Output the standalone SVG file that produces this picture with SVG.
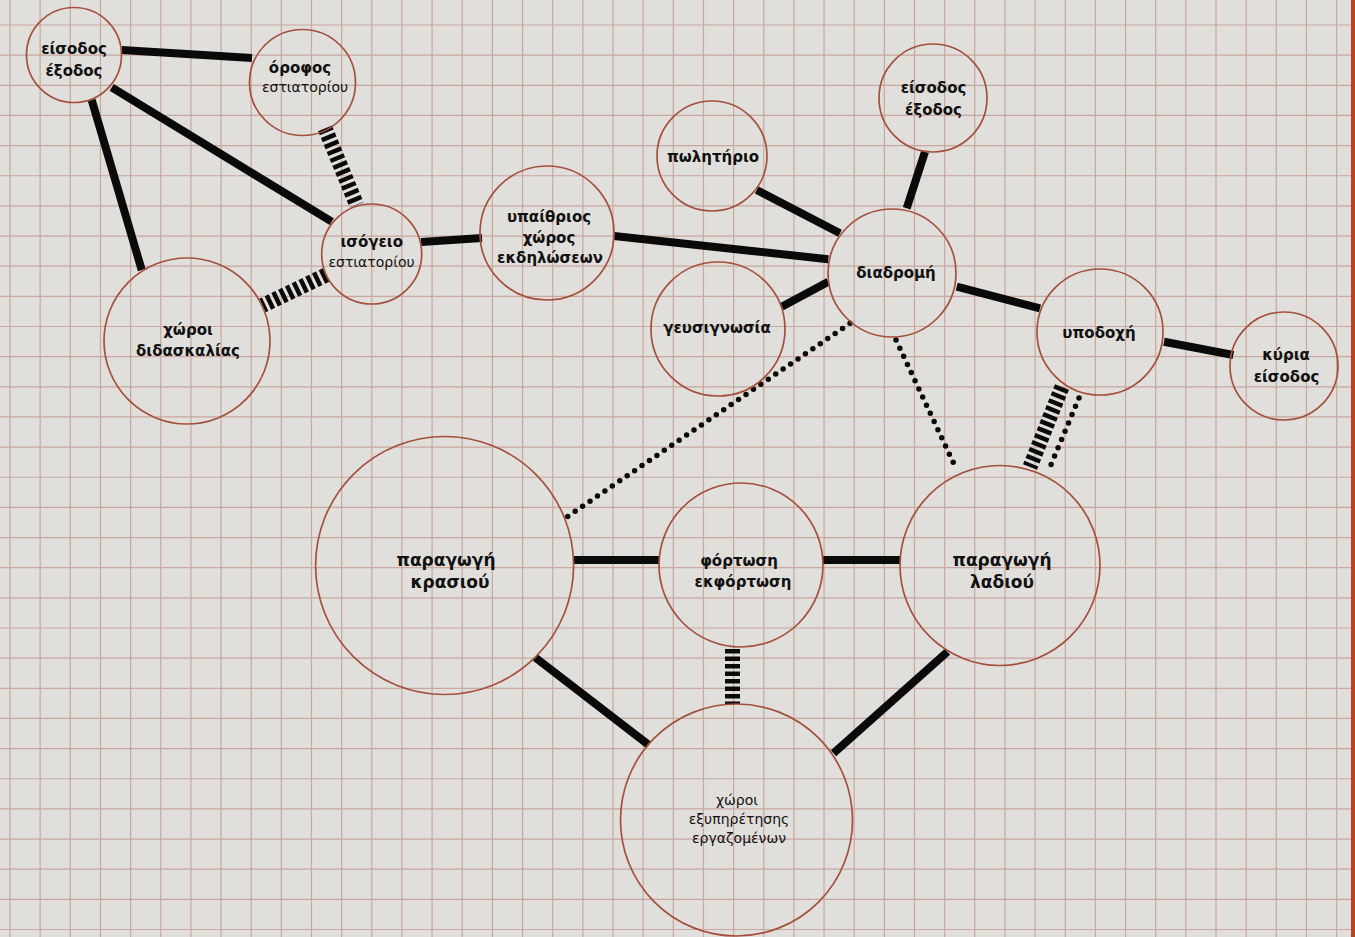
<svg xmlns="http://www.w3.org/2000/svg" width="1355" height="937" viewBox="0 0 1355 937">
<style>
.bg{fill:#e1dfdc}
.grid{stroke:#c8a79d;stroke-width:1.2;fill:none}
.node circle{fill:none;stroke:#a4503e;stroke-width:1.7}
.node text{font-family:"DejaVu Sans","Noto Sans",sans-serif;fill:#111;text-anchor:middle}
.b{font-weight:bold;font-size:15px}
.r{font-weight:normal;font-size:14px}
.big{font-weight:bold;font-size:17px}
.solid{stroke:#0a0a0a;stroke-width:8;fill:none}
.hatch{stroke:#0a0a0a;stroke-width:15;stroke-dasharray:4.5 3;fill:none}
.dots{stroke:#0a0a0a;stroke-width:5.5;stroke-linecap:round;stroke-dasharray:0 9;fill:none}
</style>
<rect class="bg" x="0" y="0" width="1355" height="937"/>
<path class="grid" d="M10 0V937M40.15 0V937M70.3 0V937M100.45 0V937M130.6 0V937M160.75 0V937M190.9 0V937M221.05 0V937M251.2 0V937M281.35 0V937M311.5 0V937M341.65 0V937M371.8 0V937M401.95 0V937M432.1 0V937M462.25 0V937M492.4 0V937M522.55 0V937M552.7 0V937M582.85 0V937M613 0V937M643.15 0V937M673.3 0V937M703.45 0V937M733.6 0V937M763.75 0V937M793.9 0V937M824.05 0V937M854.2 0V937M884.35 0V937M914.5 0V937M944.65 0V937M974.8 0V937M1004.95 0V937M1035.1 0V937M1065.25 0V937M1095.4 0V937M1125.55 0V937M1155.7 0V937M1185.85 0V937M1216 0V937M1246.15 0V937M1276.3 0V937M1306.45 0V937M1336.6 0V937
M0 25H1355M0 55.15H1355M0 85.3H1355M0 115.45H1355M0 145.6H1355M0 175.75H1355M0 205.9H1355M0 236.05H1355M0 266.2H1355M0 296.35H1355M0 326.5H1355M0 356.65H1355M0 386.8H1355M0 416.95H1355M0 447.1H1355M0 477.25H1355M0 507.4H1355M0 537.55H1355M0 567.7H1355M0 597.85H1355M0 628H1355M0 658.15H1355M0 688.3H1355M0 718.45H1355M0 748.6H1355M0 778.75H1355M0 808.9H1355M0 839.05H1355M0 869.2H1355M0 899.35H1355M0 929.5H1355"/>
<rect x="1351" y="0" width="4" height="937" fill="#b8431f"/>

<g id="connectors">
<line class="solid" x1="121.7" y1="50" x2="252" y2="58"/>
<line class="solid" x1="111.7" y1="87.3" x2="331.7" y2="221.7"/>
<line class="solid" x1="91.7" y1="100" x2="141.7" y2="270"/>
<line class="solid" x1="421" y1="242" x2="482" y2="238"/>
<line class="solid" x1="614" y1="236" x2="828.3" y2="259.3"/>
<line class="solid" x1="756.7" y1="190" x2="840" y2="233.3"/>
<line class="solid" x1="925" y1="151.7" x2="906.7" y2="208.3"/>
<line class="solid" x1="781.7" y1="306.7" x2="828.3" y2="281.7"/>
<line class="solid" x1="956.7" y1="286.7" x2="1040" y2="308.3"/>
<line class="solid" x1="1164" y1="341.7" x2="1233.3" y2="355"/>
<line class="solid" x1="573.5" y1="560" x2="659.8" y2="560"/>
<line class="solid" x1="823" y1="560" x2="900.4" y2="560"/>
<line class="solid" x1="535.4" y1="657.7" x2="648.8" y2="745"/>
<line class="solid" x1="947.5" y1="651.7" x2="833.5" y2="753.3"/>
<line class="hatch" x1="325" y1="128.3" x2="356.7" y2="205"/>
<line class="hatch" x1="326" y1="275" x2="262.5" y2="305.5"/>
<line class="hatch" x1="1062" y1="387" x2="1030" y2="467"/>
<line class="hatch" x1="732.5" y1="649" x2="732.5" y2="704"/>
<line class="dots" x1="850" y1="323.3" x2="565" y2="518.3"/>
<line class="dots" x1="896" y1="340" x2="956" y2="468.3"/>
<line class="dots" x1="1079" y1="398" x2="1050" y2="467"/>
</g>

<g id="n1" class="node"><circle cx="74" cy="55" r="47.5"/><text class="b" x="74" y="54">είσοδος</text><text class="b" x="74" y="76">έξοδος</text></g>
<g id="n2" class="node"><circle cx="302.5" cy="82.5" r="53"/><text class="b" x="300" y="73">όροφος</text><text class="r" x="305" y="92">εστιατορίου</text></g>
<g id="n3" class="node"><circle cx="371.7" cy="254" r="50"/><text class="b" x="371.7" y="247">ισόγειο</text><text class="r" x="371.5" y="267">εστιατορίου</text></g>
<g id="n4" class="node"><circle cx="187" cy="341" r="83"/><text class="b" x="188" y="335">χώροι</text><text class="b" x="188" y="356">διδασκαλίας</text></g>
<g id="n5" class="node"><circle cx="547" cy="233" r="67"/><text class="b" x="549" y="222">υπαίθριος</text><text class="b" x="549" y="243">χώρος</text><text class="b" x="550" y="263">εκδηλώσεων</text></g>
<g id="n6" class="node"><circle cx="712" cy="156" r="55"/><text class="b" x="713" y="162">πωλητήριο</text></g>
<g id="n7" class="node"><circle cx="933" cy="98" r="54"/><text class="b" x="933.5" y="93">είσοδος</text><text class="b" x="933.5" y="115">έξοδος</text></g>
<g id="n8" class="node"><circle cx="892" cy="273" r="64"/><text class="b" x="896" y="278">διαδρομή</text></g>
<g id="n9" class="node"><circle cx="718" cy="329" r="67"/><text class="b" x="717" y="333">γευσιγνωσία</text></g>
<g id="n10" class="node"><circle cx="1100" cy="332" r="63"/><text class="b" x="1099" y="338">υποδοχή</text></g>
<g id="n11" class="node"><circle cx="1284" cy="366" r="54"/><text class="b" x="1286" y="360">κύρια</text><text class="b" x="1286.5" y="382">είσοδος</text></g>
<g id="n12" class="node"><circle cx="444.6" cy="565.5" r="129"/><text class="big" x="446" y="566">παραγωγή</text><text class="big" x="450" y="588">κρασιού</text></g>
<g id="n13" class="node"><circle cx="741" cy="565" r="82"/><text class="b" x="739" y="566">φόρτωση</text><text class="b" x="743" y="587">εκφόρτωση</text></g>
<g id="n14" class="node"><circle cx="1000" cy="565.5" r="100"/><text class="big" x="1002" y="566">παραγωγή</text><text class="big" x="1002" y="588">λαδιού</text></g>
<g id="n15" class="node"><circle cx="736.5" cy="820" r="116"/><text class="r" x="737" y="805">χώροι</text><text class="r" x="739" y="824">εξυπηρέτησης</text><text class="r" x="739" y="843">εργαζομένων</text></g>
</svg>
